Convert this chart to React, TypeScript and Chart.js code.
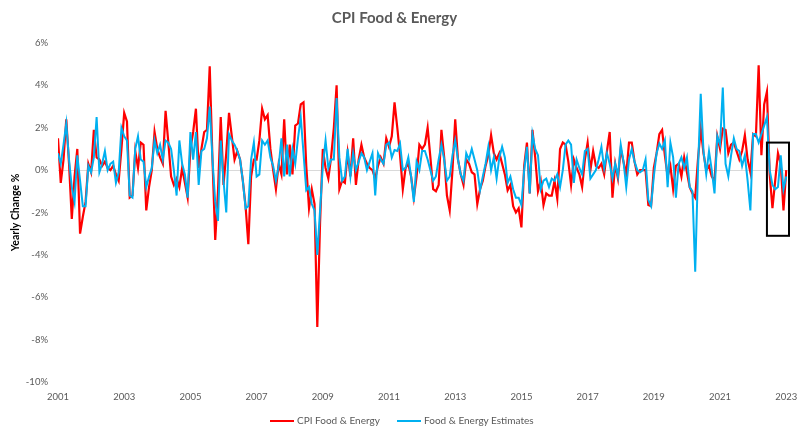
import React, { useEffect, useRef } from "react";
import { Chart, registerables } from "chart.js";

Chart.register(...registerables);

const START_YEAR = 2001;
const TITLE = "CPI Food & Energy";
const Y_TITLE = "Yearly Change %";
const SERIES_NAMES = ["CPI Food & Energy", "Food & Energy Estimates"];
const SERIES_COLORS = ["#FF0000", "#00B0F0"];

// Monthly yearly-change values (%), Jan 2001 .. Jan 2023
const cpiFoodEnergy: number[] = [
  // 2001
  1.5, -0.6, 0.5, 2.4, 0.3, -2.3, -0.3, 1.0, -3.0, -2.2, -1.5, 0.3,
  // 2002
  -0.1, 1.9, 0.6, 0.5, 0.2, 0.4, 0.1, 0.0, 0.2, -0.2, -0.5, 1.0,
  // 2003
  2.7, 2.3, -1.3, -1.2, 0.9, 0.1, 1.3, 1.2, -1.9, -0.8, 0.0, 1.8,
  // 2004
  1.0, 0.6, 0.3, 2.8, 1.3, -0.3, -0.7, -0.4, -0.8, 0.1, -0.6, -1.3,
  // 2005
  1.0, 1.8, 2.9, 0.1, 1.0, 1.8, 1.9, 4.9, 0.5, -3.3, -1.0, 2.5,
  // 2006
  -0.7, 0.8, 2.7, 1.6, 0.5, 0.9, 0.5, -0.5, -1.7, -3.5, -0.3, 0.5,
  // 2007
  0.5, 1.4, 2.9, 2.4, 2.6, 1.0, 0.0, -0.9, 0.3, -0.2, 2.4, -0.2,
  // 2008
  1.2, -0.2, 2.1, 2.2, 3.1, 3.2, 0.2, -1.8, -0.9, -1.6, -7.4, -2.5,
  // 2009
  1.0, 0.1, -0.4, 0.6, 2.0, 4.0, -0.9, -0.5, -0.6, 0.8, -0.3, 1.5,
  // 2010
  -0.7, 0.5, 1.2, 0.6, 0.3, 0.1, 0.0, -0.4, 0.2, 0.6, 0.3, 1.5,
  // 2011
  1.1, 1.6, 3.2, 2.0, 0.7, -0.9, 0.1, 0.3, -0.3, -1.3, -0.3, 1.2,
  // 2012
  1.0, 1.2, 2.0, 0.6, -0.9, -1.0, -0.7, 1.9, 0.6, -1.2, -1.9, 0.0,
  // 2013
  2.4, 0.5, -0.2, -0.7, 0.5, 0.3, -0.1, -0.2, -1.6, -0.9, -0.5, 0.2,
  // 2014
  0.7, 1.65, 0.8, 0.5, 0.8, 0.3, -0.2, -0.95, -0.7, -1.7, -2.0, -1.8,
  // 2015
  -2.7, 0.2, 1.3, -1.1, 1.9, 0.6, -1.0, -0.5, -1.65, -1.1, -1.2, -1.2,
  // 2016
  -0.5, -1.35, 1.0, 1.3, 1.2, 0.4, -0.7, 0.5, 0.1, -0.2, -0.8, 0.5,
  // 2017
  1.3, 0.0, 0.9, 0.2, 0.1, 0.3, -0.2, 0.9, 1.8, -1.3, 0.3, -0.4,
  // 2018
  1.0, 0.4, -0.2, 1.3, 1.3, 0.4, -0.2, 0.0, 0.0, 0.0, -1.65, -1.7,
  // 2019
  0.1, 0.8, 1.7, 1.9, 0.7, -0.3, 0.2, -0.9, 0.2, 0.3, -0.3, 0.6,
  // 2020
  -0.1, -0.8, -1.1, -1.3, 0.5, 1.96, 0.8, 0.0, 0.2, -0.3, -0.5, 1.6,
  // 2021
  1.0, 1.96, 1.9, 0.8, 1.2, 1.3, 0.9, 0.5, 0.9, 1.65, 0.5, -0.1,
  // 2022
  1.7, 1.6, 4.95, 0.7, 3.1, 3.7, -0.2, -1.8, -0.5, 0.8, 0.3, -1.9,
  // 2023
  0.0,
];

const foodEnergyEstimates: number[] = [
  // 2001
  0.8, 0.3, 1.2, 2.2, 0.5, -0.8, -1.5, 0.7, -0.5, -1.7, -1.7, 0.2,
  // 2002
  -0.1, 0.6, 2.5, -0.1, 0.3, 0.9, 0.0, 0.3, 0.4, -0.6, -0.1, 2.0,
  // 2003
  1.6, 1.4, -1.2, -1.3, 1.0, 1.6, 0.5, 0.4, -0.8, -0.3, 0.1, 1.4,
  // 2004
  0.8, 1.2, 0.5, 1.4, 1.3, 1.0, 0.0, -1.2, 1.4, 0.3, -0.2, -1.3,
  // 2005
  1.8, 0.5, 1.8, -0.7, 0.9, 1.0, 1.5, 3.0, 0.5, -1.5, -2.4, 1.4,
  // 2006
  -0.5, -2.0, 1.7, 1.4, 1.2, 0.9, 0.5, -0.5, -1.8, -1.7, 0.5, 1.3,
  // 2007
  -0.3, -0.2, 1.4, 1.2, 1.4, 0.6, 0.2, -0.5, 0.2, 1.5, -0.3, 1.2,
  // 2008
  -0.3, 1.0, 0.3, 1.5, 2.5, 0.8, -0.95, -0.8, -1.6, -1.9, -4.0, -1.9,
  // 2009
  0.2, 1.4, 0.1, 0.5, 0.5, 3.4, 0.6, -0.5, -0.3, 1.0, -0.3, 0.8,
  // 2010
  0.0, 0.4, 0.8, 0.6, 0.0, 0.4, 0.8, -1.2, 0.8, 0.5, 0.3, 1.2,
  // 2011
  1.3, 0.6, 0.95, 0.9, 1.25, 0.0, 0.1, 0.6, -0.3, -1.5, 0.4, 0.0,
  // 2012
  0.9, 0.9, 0.5, 0.0, -0.5, -0.3, 0.5, 1.2, 0.5, -0.5, -0.3, 0.7,
  // 2013
  1.4, 0.5, -0.2, -0.5, 0.8, 0.5, 1.0, 0.5, 0.0, -0.95, -0.3, 0.3,
  // 2014
  1.1, 0.0, 0.6, -0.4, 0.6, 1.1, 0.6, -0.6, -0.3, -0.9, -1.3, -1.3,
  // 2015
  -1.65, 0.0, 1.1, -1.1, 1.7, 1.0, 0.7, -0.9, -0.5, -0.4, -0.8, -0.4,
  // 2016
  -0.5, -0.2, -0.8, 0.0, 1.2, 1.4, 1.2, -0.6, 0.5, 0.1, -0.2, 0.9,
  // 2017
  1.0, -0.4, -0.2, 0.0, 0.5, 1.1, 0.1, 0.8, 0.3, -0.4, 0.3, -0.3,
  // 2018
  1.2, 0.4, -0.8, 0.5, 1.0, 0.4, 0.0, -0.1, 0.0, 0.5, -1.4, -1.7,
  // 2019
  -0.3, 0.8, 1.26, 1.0, 1.4, -0.8, 1.3, 0.6, -1.3, 0.3, 0.6, 0.1,
  // 2020
  0.6, -0.8, -1.0, -4.8, 0.0, 3.6, 0.9, -0.2, 0.9, 0.0, -1.1, 1.6,
  // 2021
  1.2, 3.9, 0.3, -0.3, 0.7, 1.5, 1.0, 0.9, 0.2, 0.7, -0.5, -1.9,
  // 2022
  1.7, 1.7, 1.3, 1.7, 2.1, 2.5, 0.0, -0.7, -0.9, -0.8, 0.7, -0.9,
  // 2023
  -0.3,
];

const xTickLabels = ["2001", "2003", "2005", "2007", "2009", "2011", "2013", "2015", "2017", "2019", "2021", "2023"];
const Y_MIN = -10;
const Y_MAX = 6;
const Y_STEP = 2;
const X_MAX = 265;

// highlighted recent period (month index range and value range)
const boxMonths = [257, 265];
const boxValues = [1.3, -3.1];

const FONT = "Lato, 'Liberation Sans', sans-serif";
const TEXT_COLOR = "#595959";

export default function App() {
  const ref = useRef<HTMLCanvasElement>(null);

  useEffect(() => {
    const canvas = ref.current;
    if (!canvas) return;

    const boxPlugin = {
      id: "highlightBox",
      afterDatasetsDraw(chart: any) {
        const { x, y } = chart.scales;
        const ctx = chart.ctx;
        const x0 = x.getPixelForValue(boxMonths[0]);
        const x1 = x.getPixelForValue(boxMonths[1]);
        const y0 = y.getPixelForValue(boxValues[0]);
        const y1 = y.getPixelForValue(boxValues[1]);
        ctx.save();
        ctx.strokeStyle = "#000000";
        ctx.lineWidth = 2;
        ctx.strokeRect(x0, y0, x1 - x0, y1 - y0);
        ctx.restore();
      },
    };

    const toPoints = (arr: number[]) => arr.map((v, i) => ({ x: i, y: v }));

    const chart = new Chart(canvas, {
      type: "line",
      data: {
        datasets: [
          {
            label: SERIES_NAMES[1],
            data: toPoints(foodEnergyEstimates),
            borderColor: SERIES_COLORS[1],
            backgroundColor: SERIES_COLORS[1],
            borderWidth: 2,
            pointRadius: 0,
            tension: 0,
          },
          {
            label: SERIES_NAMES[0],
            data: toPoints(cpiFoodEnergy),
            borderColor: SERIES_COLORS[0],
            backgroundColor: SERIES_COLORS[0],
            borderWidth: 2.2,
            pointRadius: 0,
            tension: 0,
          },
        ],
      },
      options: {
        animation: false,
        responsive: false,
        devicePixelRatio: 1,
        layout: { padding: { left: 0, right: 19, top: 0, bottom: 0 } },
        plugins: {
          legend: { display: false },
          tooltip: { enabled: false },
          title: {
            display: true,
            text: TITLE,
            color: TEXT_COLOR,
            font: { family: FONT, size: 15, weight: "bold" },
            padding: { top: 9, bottom: 16 },
          },
        },
        scales: {
          x: {
            type: "linear",
            min: 0,
            max: X_MAX,
            afterBuildTicks: (scale: any) => {
              scale.ticks = xTickLabels.map((_, i) => ({ value: i * 24 }));
            },
            afterFit: (scale: any) => {
              scale.height = 48;
            },
            grid: { display: false, drawTicks: false },
            border: { display: false },
            ticks: {
              color: TEXT_COLOR,
              font: { family: FONT, size: 9.5 },
              padding: 9,
              maxRotation: 0,
              autoSkip: false,
              callback: (v: any, i: number) => xTickLabels[i] ?? String(START_YEAR + Math.round(Number(v) / 12)),
            },
          },
          y: {
            min: Y_MIN,
            max: Y_MAX,
            afterFit: (scale: any) => {
              scale.width = 58;
            },
            border: { display: false },
            grid: {
              drawTicks: false,
              color: (ctx: any) => (ctx.tick && ctx.tick.value === 0 ? "#d9d9d9" : "rgba(0,0,0,0)"),
              lineWidth: 1,
            },
            ticks: {
              stepSize: Y_STEP,
              color: TEXT_COLOR,
              font: { family: FONT, size: 9.5 },
              padding: 10,
              callback: (v: any) => `${v}%`,
            },
            title: {
              display: true,
              text: Y_TITLE,
              color: "#000000",
              font: { family: FONT, size: 10.5, weight: "bold" },
              padding: { top: 9, bottom: 0 },
            },
          },
        },
      },
      plugins: [boxPlugin],
    });

    return () => chart.destroy();
  }, []);

  const legendText: React.CSSProperties = {
    position: "absolute",
    top: 413,
    fontFamily: FONT,
    fontSize: 10,
    color: TEXT_COLOR,
    lineHeight: "15px",
    whiteSpace: "nowrap",
  };
  const legendLine = (color: string, left: number): React.CSSProperties => ({
    position: "absolute",
    left,
    top: 420,
    width: 24,
    height: 2,
    background: color,
  });

  return (
    <div style={{ position: "absolute", left: 0, top: 0, width: 808, height: 430, background: "#ffffff" }}>
      <canvas ref={ref} width={808} height={430} style={{ display: "block" }} />
      <div style={legendLine(SERIES_COLORS[0], 270)} />
      <span style={{ ...legendText, left: 297 }}>{SERIES_NAMES[0]}</span>
      <div style={legendLine(SERIES_COLORS[1], 397)} />
      <span style={{ ...legendText, left: 424 }}>{SERIES_NAMES[1]}</span>
    </div>
  );
}
